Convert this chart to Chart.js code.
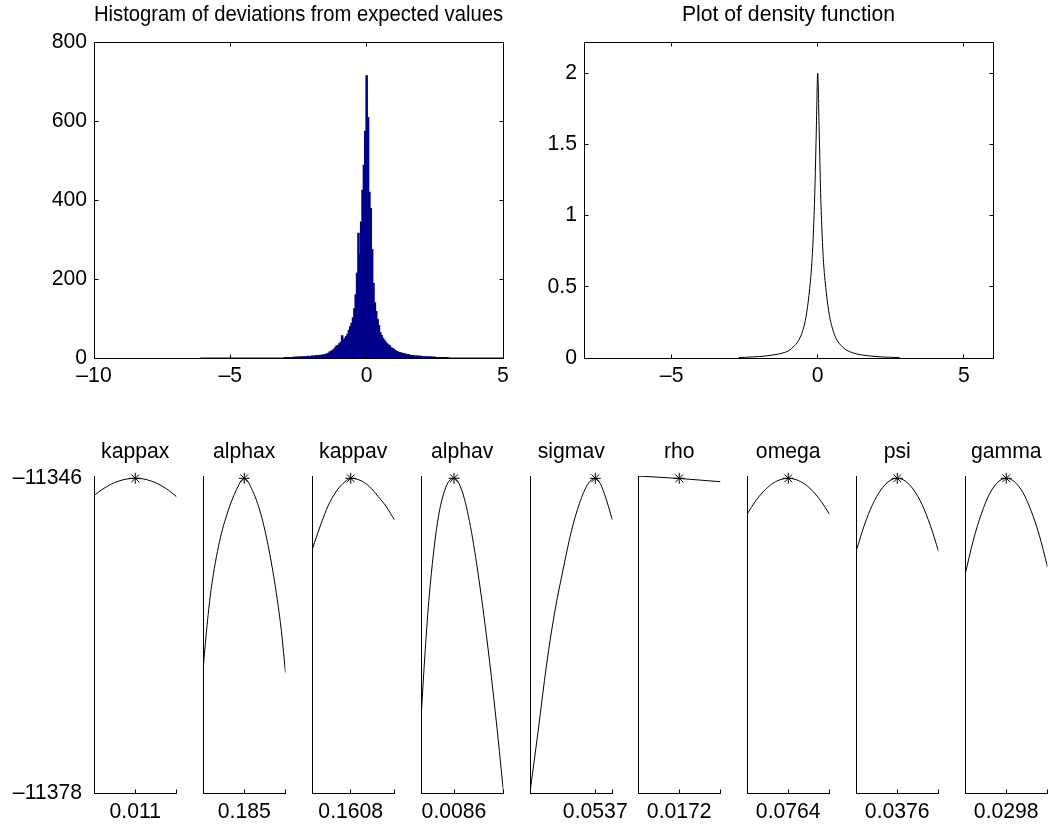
<!DOCTYPE html>
<html>
<head>
<meta charset="utf-8">
<script src="https://cdn.jsdelivr.net/npm/chart.js@4.4.1/dist/chart.umd.min.js"></script>
<style>
  html, body { margin: 0; padding: 0; background: #fff; width: 1048px; height: 825px; overflow: hidden; }
  canvas { position: absolute; }
</style>
</head>
<body>
<canvas id="hist" width="560" height="400" style="left:0px;top:0px"></canvas>
<canvas id="dens" width="558" height="400" style="left:490px;top:0px"></canvas>
<div id="profiles"></div>
<script>
// ---- histogram of deviations (bin centres, width 0.05) ----
const histBinCenters = [
  -3.00, -2.95, -2.90, -2.85, -2.80, -2.75, -2.70, -2.65, -2.60, -2.55,
  -2.50, -2.45, -2.40, -2.35, -2.30, -2.25, -2.20, -2.15, -2.10, -2.05,
  -2.00, -1.95, -1.90, -1.85, -1.80, -1.75, -1.70, -1.65, -1.60, -1.55,
  -1.50, -1.45, -1.40, -1.35, -1.30, -1.25, -1.20, -1.15, -1.10, -1.05,
  -1.00, -0.95, -0.90, -0.85, -0.80, -0.75, -0.70, -0.65, -0.60, -0.55,
  -0.50, -0.45, -0.40, -0.35, -0.30, -0.25, -0.20, -0.15, -0.10, -0.05,
   0.00,  0.05,  0.10,  0.15,  0.20,  0.25,  0.30,  0.35,  0.40,  0.45,
   0.50,  0.55,  0.60,  0.65,  0.70,  0.75,  0.80,  0.85,  0.90,  0.95,
   1.00,  1.05,  1.10,  1.15,  1.20,  1.25,  1.30,  1.35,  1.40,  1.45,
   1.50,  1.55,  1.60,  1.65,  1.70,  1.75,  1.80,  1.85,  1.90,  1.95,
   2.00,  2.05,  2.10,  2.15,  2.20,  2.25,  2.30,  2.35,  2.40,  2.45,
   2.50,  2.55,  2.60,  2.65,  2.70,  2.75,  2.80,  2.85,  2.90,  2.95, 3.00
];
const histCounts = [
  1, 1, 0, 1, 1, 1, 1, 2, 1, 2,
  2, 2, 2, 3, 2, 3, 3, 4, 3, 4,
  4, 5, 4, 6, 5, 6, 7, 6, 8, 7,
  9, 10, 12, 15, 17, 19, 22, 26, 31, 30,
  36, 40, 56, 45, 50, 54, 60, 70, 79, 88,
  102, 125, 160, 215, 316, 262, 345, 425, 489, 575,
  716, 610, 420, 379, 275, 189, 140, 118, 98, 82,
  64, 57, 50, 45, 40, 36, 33, 31, 26, 24,
  22, 19, 16, 15, 14, 13, 12, 11, 10, 9,
  8, 8, 7, 6, 6, 5, 5, 5, 4, 4,
  4, 3, 3, 3, 2, 3, 2, 2, 2, 1,
  2, 1, 1, 1, 1, 1, 1, 0, 1, 1, 0
];
const histSupport = [-6.1, 5.0];           // range spanned by the bins
const histXTicks = [-10, -5, 0, 5];
const histYTicks = [0, 200, 400, 600, 800];

// ---- density function ----
const densX = [-2.7, -2.5, -2.0, -1.5, -1.2, -1.0, -0.9, -0.8, -0.7, -0.6, -0.5, -0.4, -0.3, -0.2, -0.15, -0.1, -0.05,
               0, 0.05, 0.1, 0.15, 0.2, 0.3, 0.4, 0.5, 0.6, 0.7, 0.8, 0.9, 1.0, 1.2, 1.5, 2.0, 2.5, 2.8];
const densY = [0.003, 0.005, 0.01, 0.022, 0.035, 0.05, 0.065, 0.085, 0.108, 0.145, 0.2, 0.29, 0.44, 0.67, 0.87, 1.16, 1.58,
               2.0, 1.6, 1.16, 0.87, 0.67, 0.45, 0.3, 0.21, 0.15, 0.112, 0.088, 0.068, 0.054, 0.036, 0.022, 0.01, 0.005, 0.003];
const densXTicks = [-5, 0, 5];
const densYTicks = [0, 0.5, 1, 1.5, 2];

// ---- profile log-likelihoods ----
const paramNames = ['kappax', 'alphax', 'kappav', 'alphav', 'sigmav', 'rho', 'omega', 'psi', 'gamma'];
const paramEstimates = [0.011, 0.185, 0.1608, 0.0086, 0.0537, 0.0172, 0.0764, 0.0376, 0.0298];
const paramTickLabels = ['0.011', '0.185', '0.1608', '0.0086', '0.0537', '0.0172', '0.0764', '0.0376', '0.0298'];
const paramMin = [0.0055, 0.0925, 0.0800, 0.0043, 0.0268, 0.0086, 0.0382, 0.0188, 0.0149];
const paramMax = [0.0165, 0.2775, 0.2520, 0.01505, 0.0608, 0.0258, 0.1146, 0.0564, 0.0447];
const maxLogLik = -11346.0;
const llTicks = [-11378, -11346];
const llMin = -11378, llMax = -11345.77;

const kappaxX  = [0.0055, 0.0066, 0.0077, 0.0088, 0.0099, 0.0110, 0.0121, 0.0132, 0.0143, 0.0154, 0.0165];
const kappaxLL = [-11347.76, -11347.13, -11346.63, -11346.28, -11346.07, -11346.00, -11346.07, -11346.30, -11346.67, -11347.20, -11347.87];
const alphaxX  = [0.0925, 0.1018, 0.1110, 0.1295, 0.1480, 0.1665, 0.1850, 0.2035, 0.2220, 0.2405, 0.2590, 0.2683, 0.2775];
const alphaxLL = [-11365.50, -11360.85, -11357.20, -11352.44, -11349.42, -11347.26, -11346.00, -11347.26, -11349.60, -11353.29, -11358.30, -11361.55, -11365.75];
const kappavX  = [0.0800, 0.0972, 0.1144, 0.1316, 0.1488, 0.1608, 0.1832, 0.2004, 0.2176, 0.2348, 0.2520];
const kappavLL = [-11353.29, -11350.85, -11348.71, -11347.26, -11346.34, -11346.00, -11346.27, -11346.88, -11347.83, -11348.88, -11350.24];
const alphavX  = [0.0043, 0.00484, 0.00538, 0.00645, 0.00753, 0.0086, 0.00968, 0.01075, 0.01183, 0.0129, 0.01398, 0.01505];
const alphavLL = [-11370.43, -11363.60, -11357.90, -11350.48, -11346.92, -11346.00, -11347.36, -11350.92, -11356.18, -11362.45, -11369.75, -11377.90];
const sigmavX  = [0.0268, 0.0302, 0.0336, 0.0370, 0.0404, 0.0438, 0.0472, 0.0506, 0.0537, 0.0557, 0.0574, 0.0608];
const sigmavLL = [-11377.95, -11371.60, -11365.00, -11359.57, -11355.33, -11351.43, -11348.54, -11346.61, -11346.00, -11346.51, -11347.53, -11350.24];
const rhoX     = [0.0086, 0.0129, 0.0172, 0.0215, 0.0258];
const rhoLL    = [-11345.77, -11345.89, -11346.02, -11346.18, -11346.35];
const omegaX   = [0.0382, 0.0458, 0.0535, 0.0611, 0.0688, 0.0764, 0.0840, 0.0917, 0.0993, 0.1070, 0.1146];
const omegaLL  = [-11349.66, -11348.36, -11347.33, -11346.59, -11346.15, -11346.00, -11346.15, -11346.59, -11347.33, -11348.36, -11349.66];
const psiX     = [0.0188, 0.0226, 0.0263, 0.0301, 0.0338, 0.0376, 0.0414, 0.0451, 0.0489, 0.0526, 0.0564];
const psiLL    = [-11353.46, -11350.77, -11348.69, -11347.19, -11346.30, -11346.00, -11346.30, -11347.18, -11348.66, -11350.74, -11353.40];
const gammaX   = [0.0149, 0.0179, 0.0209, 0.0238, 0.0268, 0.0298, 0.0328, 0.0358, 0.0387, 0.0417, 0.0447];
const gammaLL  = [-11355.84, -11352.30, -11349.54, -11347.57, -11346.39, -11346.00, -11346.36, -11347.44, -11349.24, -11351.76, -11355.00];

const profileX  = [kappaxX, alphaxX, kappavX, alphavX, sigmavX, rhoX, omegaX, psiX, gammaX];
const profileLL = [kappaxLL, alphaxLL, kappavLL, alphavLL, sigmavLL, rhoLL, omegaLL, psiLL, gammaLL];

// ---- look ----
const FONT_SIZE = 21.2;
const HIST_FILL = '#00008c';
const HIST_EDGE = '#0000c8';

Chart.defaults.font.family = '"Liberation Sans", Arial, Helvetica, sans-serif';
Chart.defaults.font.size = FONT_SIZE;
Chart.defaults.color = '#000';
Chart.defaults.animation = false;
Chart.defaults.plugins.legend.display = false;
Chart.defaults.plugins.tooltip.enabled = false;

const dash = v => (v < 0 ? '\u2013' + (-v) : String(v));
const align = p => Math.round(p - 0.5) + 0.5;

// matlab style: ticks drawn inward, optional closed box
const innerTicks = {
  id: 'innerTicks',
  afterDatasetsDraw(chart, args, opts) {
    const { ctx, chartArea: a, scales } = chart;
    const len = 4;
    const L = align(a.left), R = align(a.right), T = align(a.top), B = align(a.bottom);
    ctx.save();
    ctx.strokeStyle = '#000';
    ctx.lineWidth = 1;
    ctx.beginPath();
    if (opts.box) {
      ctx.moveTo(L, T); ctx.lineTo(R, T); ctx.lineTo(R, B);
    }
    scales.x.ticks.forEach(t => {
      const px = align(scales.x.getPixelForValue(t.value));
      ctx.moveTo(px, B); ctx.lineTo(px, B - len);
      if (opts.box) { ctx.moveTo(px, T); ctx.lineTo(px, T + len); }
    });
    if (opts.yTicks) {
      scales.y.ticks.forEach(t => {
        const py = align(scales.y.getPixelForValue(t.value));
        ctx.moveTo(L, py); ctx.lineTo(L + len, py);
        if (opts.box) { ctx.moveTo(R, py); ctx.lineTo(R - len, py); }
      });
    }
    ctx.stroke();
    ctx.restore();
  }
};

function topTitle(text, padTop, padBottom) {
  return {
    display: true, text, fullSize: false, color: '#000',
    font: { size: FONT_SIZE, weight: 'normal', lineHeight: 1.2 },
    padding: { top: padTop, bottom: padBottom }
  };
}

function axis(min, max, tickValues, extra) {
  return Object.assign({
    type: 'linear', min, max, offset: false,
    grid: { display: false, drawTicks: false },
    border: { display: true, color: '#000', width: 1 },
    ticks: { autoSkip: false, maxRotation: 0, callback: v => dash(v) },
    afterBuildTicks: s => { s.ticks = tickValues.map(v => ({ value: v })); }
  }, extra);
}

// histogram
new Chart(document.getElementById('hist'), {
  type: 'bar',
  data: {
    datasets: [
      {
        type: 'bar',
        data: histBinCenters.map((x, i) => ({ x, y: histCounts[i] })),
        backgroundColor: HIST_FILL,
        borderWidth: 0,
        barPercentage: 1,
        categoryPercentage: 1,
        inflateAmount: 0.6,
        grouped: false
      },
      {
        type: 'line',
        data: histSupport.map(x => ({ x, y: 0 })),
        borderColor: HIST_EDGE,
        borderWidth: 1,
        pointRadius: 0
      }
    ]
  },
  options: {
    responsive: false,
    layout: { padding: { left: 0, right: 57, top: 0, bottom: 0 } },
    plugins: {
      title: topTitle('Histogram of deviations from expected values', 2.6, 14.6),
      innerTicks: { box: true, yTicks: true }
    },
    scales: {
      x: axis(-10, 5, histXTicks, { afterFit: s => { s.height = 42; } }),
      y: axis(0, 800, histYTicks, { afterFit: s => { s.width = 94; } })
    }
  },
  plugins: [innerTicks]
});
const histOpts = Chart.getChart('hist').options.scales;
histOpts.x.ticks.padding = 5;
histOpts.y.ticks.padding = 7;
Chart.getChart('hist').update();

// density
new Chart(document.getElementById('dens'), {
  type: 'line',
  data: {
    datasets: [{
      data: densX.map((x, i) => ({ x, y: densY[i] })),
      borderColor: '#000',
      borderWidth: 1,
      pointRadius: 0,
      cubicInterpolationMode: 'monotone'
    }]
  },
  options: {
    responsive: false,
    layout: { padding: { left: 0, right: 55, top: 0, bottom: 0 } },
    plugins: {
      title: topTitle('Plot of density function', 2.6, 14.6),
      innerTicks: { box: true, yTicks: true }
    },
    scales: {
      x: axis(-8, 6, densXTicks, { afterFit: s => { s.height = 42; } }),
      y: axis(0, 2.215, densYTicks, { afterFit: s => { s.width = 94; } })
    }
  },
  plugins: [innerTicks]
});
const densOpts = Chart.getChart('dens').options.scales;
densOpts.x.ticks.padding = 5;
densOpts.y.ticks.padding = 7;
Chart.getChart('dens').update();

// profile panels
const holder = document.getElementById('profiles');
paramNames.forEach((name, i) => {
  const left = Math.round(94 + i * 108.875);
  const cv = document.createElement('canvas');
  cv.width = 237; cv.height = 405;
  cv.style.left = (left - 94) + 'px';
  cv.style.top = '420px';
  holder.appendChild(cv);

  const xs = profileX[i], ys = profileLL[i];
  const xAxis = axis(paramMin[i], paramMax[i], [paramMin[i], paramEstimates[i], paramMax[i]], {
    afterFit: s => { s.height = 32; }
  });
  xAxis.ticks = { autoSkip: false, maxRotation: 0, padding: 6.5,
                  callback: (v, idx) => (idx === 1 ? paramTickLabels[i] : '') };
  const yAxis = axis(llMin, llMax, llTicks, { afterFit: s => { s.width = 94; } });
  yAxis.ticks = { autoSkip: false, padding: 12, display: i === 0, callback: v => dash(v) };

  new Chart(cv, {
    type: 'line',
    data: {
      datasets: [
        {
          data: xs.map((x, k) => ({ x, y: ys[k] })),
          borderColor: '#000',
          borderWidth: 1,
          pointRadius: 0,
          cubicInterpolationMode: 'monotone'
        },
        {
          data: [{ x: paramEstimates[i], y: maxLogLik }],
          showLine: false,
          pointStyle: 'star',
          pointRadius: 5.5,
          borderColor: '#000',
          borderWidth: 1,
          clip: false
        }
      ]
    },
    options: {
      responsive: false,
      layout: { padding: { left: 0, right: 60.5, top: 0, bottom: 0 } },
      plugins: {
        title: topTitle(name, 19.6, 11),
        innerTicks: { box: false, yTicks: false }
      },
      scales: { x: xAxis, y: yAxis }
    },
    plugins: [innerTicks]
  });
});
</script>
</body>
</html>
